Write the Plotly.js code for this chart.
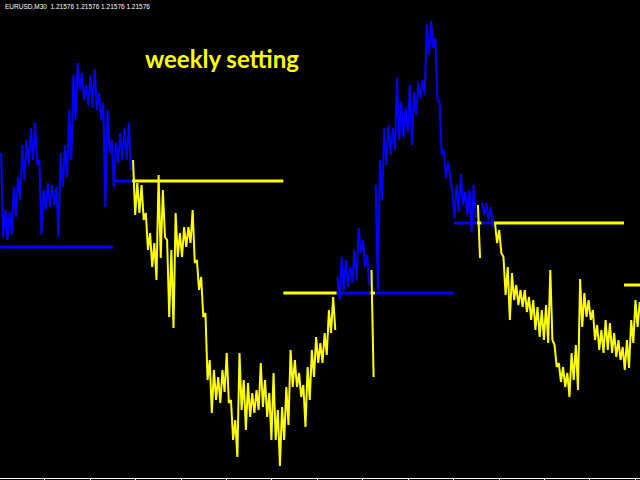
<!DOCTYPE html>
<html><head><meta charset="utf-8">
<script src="https://cdn.plot.ly/plotly-3.0.1.min.js"></script>
<style>html,body{margin:0;padding:0;background:#000;}#chart{width:640px;height:480px;}</style>
</head><body><div id="chart"></div>
<script>
// ---- data ----
const symbol = 'EURUSD,M30';
const lastQuote = ['1.21576', '1.21576', '1.21576', '1.21576'];
const chartNote = 'weekly setting';
const firstBar = 81;        // M30 bar number of first sample
const barsPerSample = 6;    // each sample = 3 hours of M30 bars (high / low)
const barsPerWeek = 240;
const high = [
 1.2317,1.2260,1.2258,1.2283,1.2293,1.2325,1.2330,1.2342,1.2347,1.2310,
 1.2280,1.2287,1.2285,1.2283,1.2317,1.2325,1.2360,1.2395,1.2407,1.2397,
 1.2385,1.2395,1.2401,1.2377,1.2367,1.2360,1.2330,1.2327,1.2337,1.2342,
 1.2347,1.2310,1.2287,1.2285,1.2257,1.2237,1.2227,1.2295,1.2280,1.2230,
 1.2220,1.2257,1.2237,1.2243,1.2243,1.2260,1.2210,1.2193,1.2157,1.2110,
 1.2100,1.2093,1.2100,1.2117,1.2070,1.2050,1.2117,1.2090,1.2087,1.2077,
 1.2080,1.2107,1.2090,1.2077,1.2097,1.2060,1.2063,1.2083,1.2120,1.2110,
 1.2097,1.2085,1.2103,1.2120,1.2133,1.2127,1.2137,1.2160,1.2173,1.2193,
 1.2213,1.2210,1.2203,1.2220,1.2242,1.2230,1.2215,1.2200,1.2285,1.2310,
 1.2342,1.2345,1.2342,1.2392,1.2368,1.2362,1.2385,1.2378,1.2388,1.2390,
 1.2445,1.2449,1.2432,1.2368,1.2320,1.2308,1.2278,1.2285,1.2296,1.2278,
 1.2280,1.2285,1.2265,1.2268,1.2267,1.2263,1.2247,1.2240,1.2213,1.2203,
 1.2197,1.2185,1.2180,1.2180,1.2173,1.2170,1.2163,1.2160,1.2165,1.2200,
 1.2125,1.2107,1.2103,1.2097,1.2117,1.2125,1.2191,1.2177,1.2170,1.2160,
 1.2145,1.2140,1.2150,1.2147,1.2137,1.2130,1.2123,1.2130,1.2150,1.2170,
 1.2168
];
const low = [
 1.2233,1.2230,1.2235,1.2253,1.2270,1.2290,1.2305,1.2310,1.2305,1.2235,
 1.2260,1.2263,1.2265,1.2233,1.2283,1.2293,1.2310,1.2350,1.2380,1.2370,
 1.2365,1.2363,1.2360,1.2350,1.2263,1.2317,1.2283,1.2307,1.2310,1.2310,
 1.2300,1.2255,1.2257,1.2250,1.2220,1.2203,1.2190,1.2212,1.2233,1.2153,
 1.2142,1.2213,1.2213,1.2223,1.2227,1.2207,1.2180,1.2153,1.2090,1.2057,
 1.2070,1.2067,1.2078,1.2067,1.2030,1.2013,1.2060,1.2040,1.2053,1.2057,
 1.2060,1.2063,1.2053,1.2030,1.2030,1.2004,1.2030,1.2045,1.2083,1.2083,
 1.2073,1.2043,1.2070,1.2093,1.2107,1.2107,1.2115,1.2137,1.2140,1.2170,
 1.2180,1.2183,1.2187,1.2190,1.2217,1.2203,1.2185,1.2093,1.2180,1.2270,
 1.2305,1.2315,1.2320,1.2330,1.2332,1.2338,1.2325,1.2355,1.2372,1.2375,
 1.2415,1.2422,1.2370,1.2315,1.2292,1.2290,1.2252,1.2258,1.2265,1.2255,
 1.2238,1.2252,1.2212,1.2255,1.2250,1.2243,1.2227,1.2217,1.2175,1.2150,
 1.2170,1.2165,1.2163,1.2158,1.2150,1.2140,1.2133,1.2130,1.2127,1.2130,
 1.2103,1.2088,1.2083,1.2073,1.2090,1.2080,1.2143,1.2153,1.2150,1.2130,
 1.2120,1.2117,1.2120,1.2117,1.2113,1.2110,1.2100,1.2102,1.2127,1.2143,
 1.2150
];
const weekStart = [0, 240, 480, 720, 960];
const weekLevel = [1.2223, 1.2289, 1.2177, 1.2247, 1.2185];

// ---- styling ----
const BLUE = '#0000FF', YELLOW = '#FFFF00';
const n = high.length;
const sStart = i => firstBar + barsPerSample * i;
const colorFor = (i, w) => ((high[i] + low[i]) / 2 >= weekLevel[w]) ? BLUE : YELLOW;
function weekOf(i) {
  const mid = sStart(i) + barsPerSample / 2;
  let k = 0;
  for (let w = 0; w < weekStart.length; w++) if (mid >= weekStart[w]) k = w;
  return k;
}
const col = high.map((h, i) => colorFor(i, weekOf(i)));

function priceTrace(c) {
  const x = [], y = [];
  let open = false;
  for (let i = 0; i < n; i++) {
    const s = sStart(i);
    if (col[i] === c) {
      x.push(s + 1.2, s + 4.2); y.push(high[i], low[i]); open = true;
    } else if (open) { x.push(null); y.push(null); open = false; }
  }
  return {type: 'scatter', mode: 'lines', x, y, line: {color: c, width: 2}, hoverinfo: 'skip'};
}

// level lines: continuous runs of one colour inside each week
const lvl = {};
lvl[BLUE] = {x: [], y: []}; lvl[YELLOW] = {x: [], y: []};
for (let w = 0; w < weekStart.length; w++) {
  const ws = weekStart[w], we = ws + barsPerWeek;
  let runC = null, runS = null, runE = null;
  const flush = () => {
    if (runC) { lvl[runC].x.push(runS, runE, null); lvl[runC].y.push(weekLevel[w], weekLevel[w], null); }
  };
  for (let i = 0; i < n; i++) {
    const s = sStart(i), e = s + barsPerSample;
    if (e <= ws || s >= we) continue;
    const c = colorFor(i, w);
    const a = Math.max(s, ws), b = Math.min(e, we);
    if (c === runC) { runE = b; }
    else { flush(); runC = c; runS = a; runE = b; }
  }
  flush();
}
const levelTraces = [BLUE, YELLOW].map(c => ({
  type: 'scatter', mode: 'lines', x: lvl[c].x, y: lvl[c].y,
  line: {color: c, width: 3}, hoverinfo: 'skip'
}));

const data = [priceTrace(BLUE), priceTrace(YELLOW), ...levelTraces];

const layout = {
  width: 640, height: 480,
  margin: {l: 0, r: 0, t: 0, b: 2},
  paper_bgcolor: '#000000', plot_bgcolor: '#000000',
  showlegend: false,
  xaxis: {range: [80.7, 982.6], showgrid: false, zeroline: false,
          showline: true, linecolor: '#FFFFFF', linewidth: 1,
          ticks: 'outside', ticklen: 2, tickcolor: '#FFFFFF', tickwidth: 1,
          tick0: 16, dtick: 64, showticklabels: false},
  yaxis: {range: [1.1992, 1.2470], visible: false},
  annotations: [
    {xref: 'paper', yref: 'paper', x: 0.004, y: 0.998, xanchor: 'left', yanchor: 'top',
     text: symbol + '\u00a0\u00a0' + lastQuote.join(' '), showarrow: false,
     font: {family: 'Liberation Sans', size: 6.5, color: '#FFFFFF'}},
    {xref: 'paper', yref: 'paper', x: 222 / 640, y: 1 - 58 / 478, xanchor: 'center', yanchor: 'middle',
     text: '<b>' + chartNote + '</b>', showarrow: false,
     font: {family: 'Lato', size: 24, color: '#FFFF00'}}
  ]
};
Plotly.newPlot('chart', data, layout, {staticPlot: true, displayModeBar: false});
</script>
</body></html>
